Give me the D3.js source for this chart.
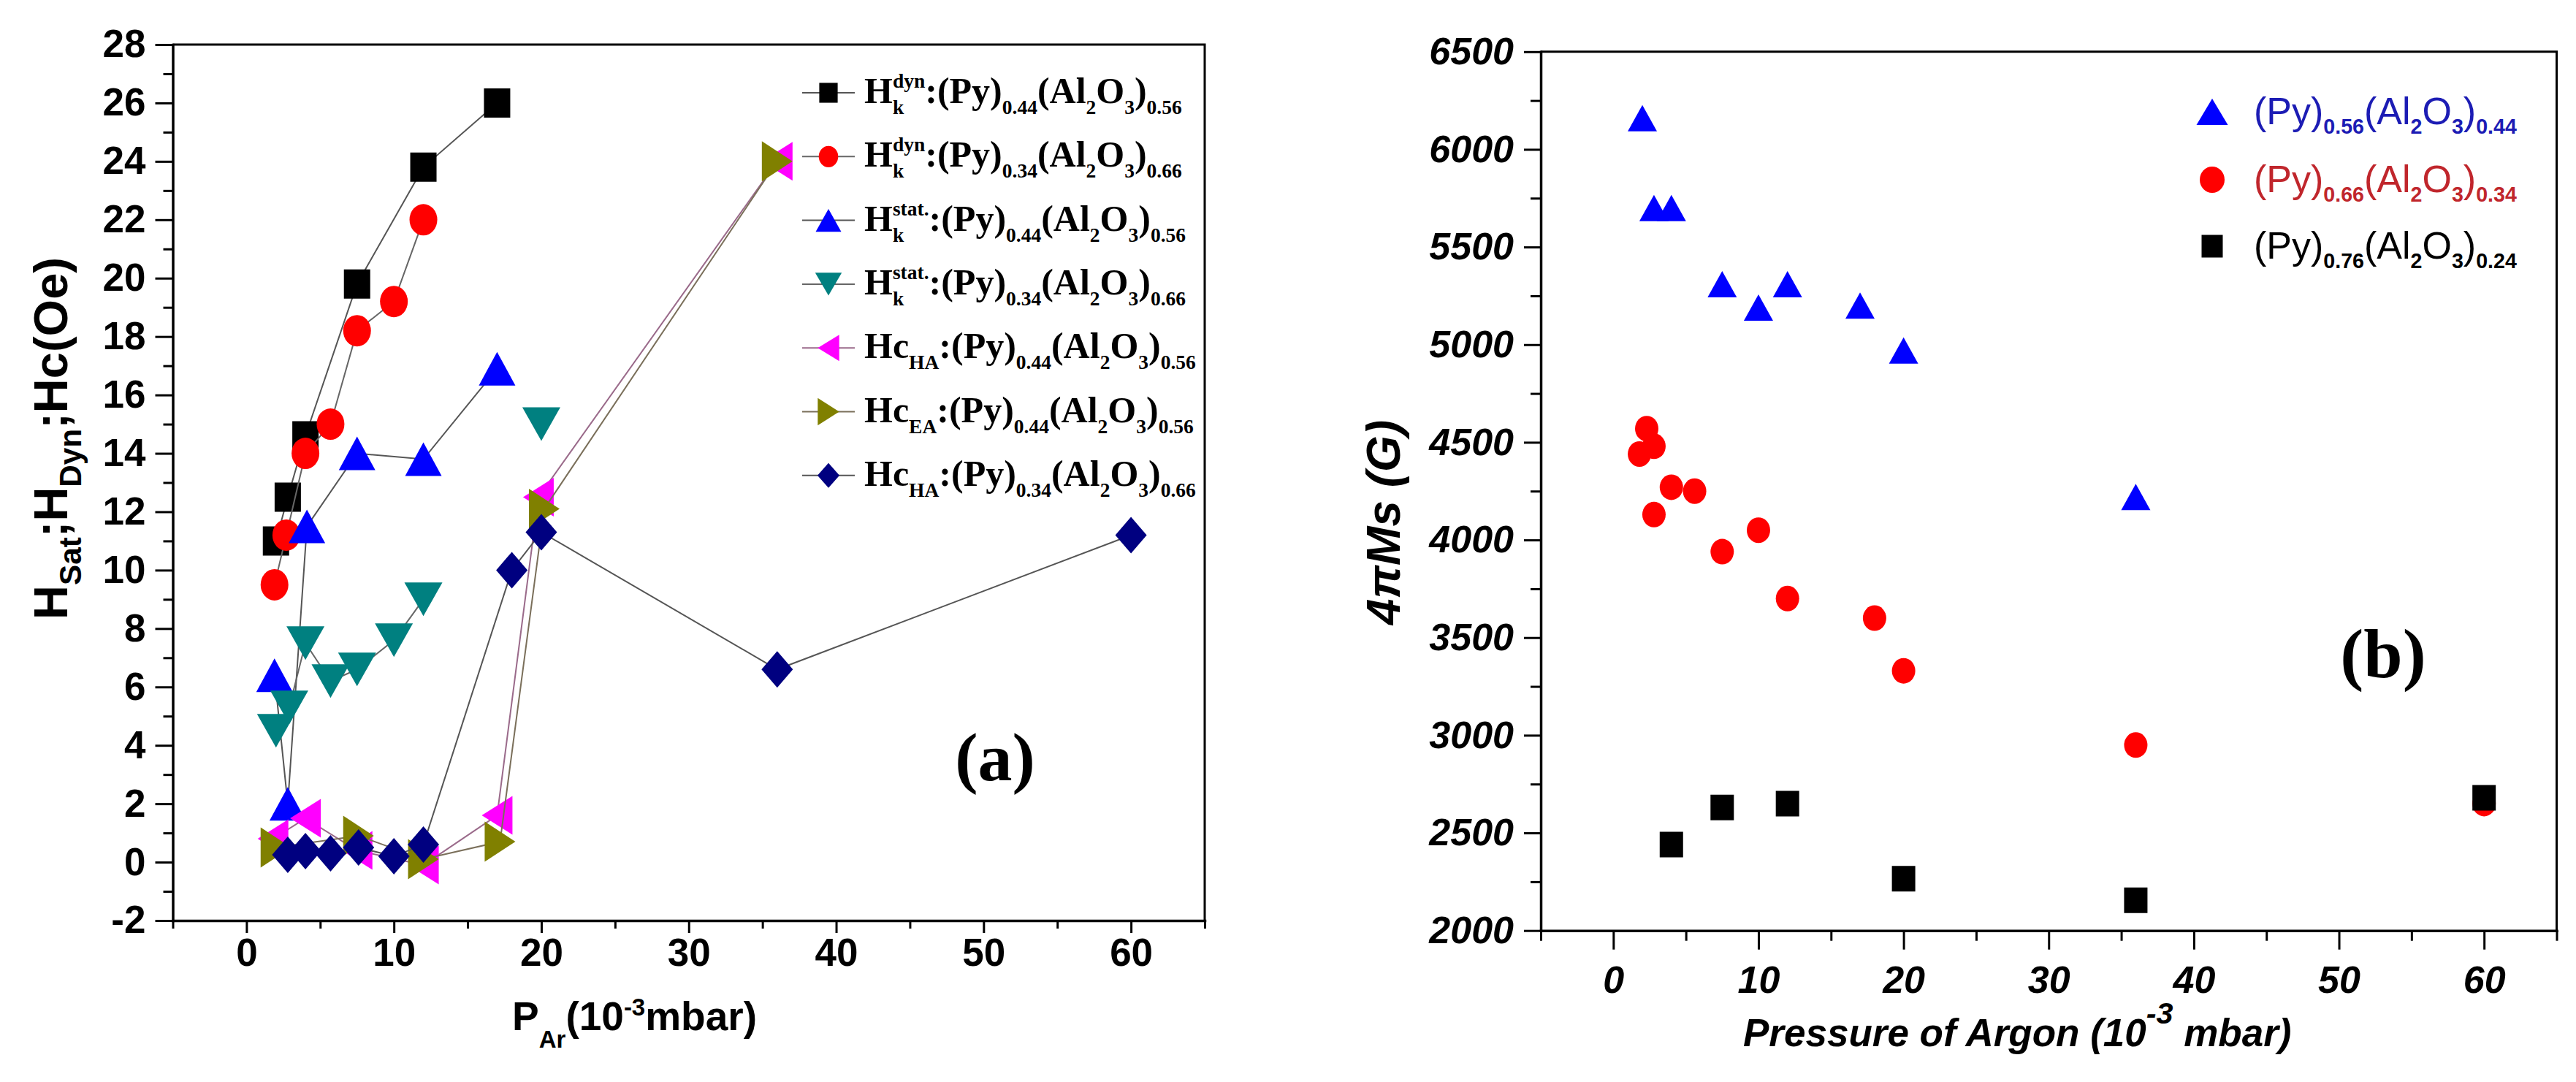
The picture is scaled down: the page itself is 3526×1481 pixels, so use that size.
<!DOCTYPE html>
<html>
<head>
<meta charset="utf-8">
<script src="https://cdn.jsdelivr.net/npm/d3@7.9.0/dist/d3.min.js"></script>
<style>
  html, body { margin: 0; padding: 0; background: #fff; }
  svg { display: block; }
</style>
</head>
<body>
<svg id="chart" width="3526" height="1481"></svg>
<script>
// ---------- panel (a): fields vs argon pressure ----------
const hkDyn044X = [2, 2.8, 4, 7.5, 12, 17];
const hkDyn044Y = [11, 12.5, 14.6, 19.8, 23.8, 26];
const hkDyn034X = [1.9, 2.7, 4, 5.7, 7.5, 10, 12];
const hkDyn034Y = [9.5, 11.2, 14, 15, 18.2, 19.2, 22];
const hkStat044X = [1.9, 2.8, 4.1, 7.5, 12, 17];
const hkStat044Y = [6.4, 2.0, 11.5, 14.0, 13.8, 16.9];
// null = gap in the connecting line
const hkStat034X = [2, 2.9, 4, 5.7, 7.5, 10, 12, null, 20];
const hkStat034Y = [4.5, 5.3, 7.5, 6.2, 6.6, 7.6, 9.0, null, 15.0];
const hcHA044X = [1.8, 4, 7.5, 12, 17, 19.8, 36];
const hcHA044Y = [0.8, 1.5, 0.4, -0.1, 1.6, 12.5, 24];
const hcEA044X = [2, 7.6, 12, 17.2, 20.2, 36];
const hcEA044Y = [0.5, 0.9, 0.1, 0.7, 12.1, 24];
const hcHA034X = [2.8, 4, 5.7, 7.6, 10, 12, 18, 20, 36, 60];
const hcHA034Y = [0.25, 0.38, 0.3, 0.5, 0.2, 0.6, 10, 11.3, 6.6, 11.2];

const legendA = [
  'H^{dyn}_{k}:(Py)_{0.44}(Al_{2}O_{3})_{0.56}',
  'H^{dyn}_{k}:(Py)_{0.34}(Al_{2}O_{3})_{0.66}',
  'H^{stat.}_{k}:(Py)_{0.44}(Al_{2}O_{3})_{0.56}',
  'H^{stat.}_{k}:(Py)_{0.34}(Al_{2}O_{3})_{0.66}',
  'Hc_{HA}:(Py)_{0.44}(Al_{2}O_{3})_{0.56}',
  'Hc_{EA}:(Py)_{0.44}(Al_{2}O_{3})_{0.56}',
  'Hc_{HA}:(Py)_{0.34}(Al_{2}O_{3})_{0.66}'
];
const xTicksA = [0, 10, 20, 30, 40, 50, 60];
const xMinorA = [-5, 5, 15, 25, 35, 45, 55, 65];
const yTicksA = d3.range(-2, 29, 2);
const yMinorA = d3.range(-1, 28, 2);

// ---------- panel (b): 4piMs vs argon pressure ----------
const ms056X = [2, 2.8, 4, 7.5, 10, 12, 17, 20, 36];
const ms056Y = [6160, 5700, 5700, 5310, 5190, 5310, 5200, 4970, 4220];
const ms066X = [1.8, 2.3, 2.8, 2.8, 4, 5.6, 7.5, 10, 12, 18, 20, 36, 60];
const ms066Y = [4440, 4570, 4480, 4130, 4270, 4250, 3940, 4050, 3700, 3600, 3330, 2950, 2650];
const ms076X = [4, 7.5, 12, 20, 36, 60];
const ms076Y = [2440, 2630, 2650, 2265, 2155, 2680];

const legendB = [
  '(Py)_{0.56}(Al_{2}O_{3})_{0.44}',
  '(Py)_{0.66}(Al_{2}O_{3})_{0.34}',
  '(Py)_{0.76}(Al_{2}O_{3})_{0.24}'
];
const xTicksB = [0, 10, 20, 30, 40, 50, 60];
const xMinorB = [-5, 5, 15, 25, 35, 45, 55, 65];
const yTicksB = d3.range(2000, 6501, 500);
const yMinorB = d3.range(2250, 6300, 500);

const SANS = 'Liberation Sans, Arial, sans-serif';
const SERIF = 'Liberation Serif, Times New Roman, serif';

const svg = d3.select('#chart');
svg.append('rect').attr('width', 3526).attr('height', 1481).attr('fill', '#fff');

// marker outline centred on its bounding box
function shape(type, w, h) {
  const a = w / 2, b = h / 2;
  switch (type) {
    case 'square': return `M${-a},${-b}H${a}V${b}H${-a}Z`;
    case 'circle': return `M${-a},0A${a},${b} 0 1,0 ${a},0A${a},${b} 0 1,0 ${-a},0Z`;
    case 'up': return `M0,${-b}L${a},${b}L${-a},${b}Z`;
    case 'down': return `M${-a},${-b}L${a},${-b}L0,${b}Z`;
    case 'left': return `M${-a},0L${a},${-b}L${a},${b}Z`;
    case 'right': return `M${-a},${-b}L${a},0L${-a},${b}Z`;
    case 'diamond': return `M0,${-b}L${a},0L0,${b}L${-a},0Z`;
  }
}

// text with _{sub}, ^{sup} and stacked ^{sup}_{sub}
function rich(parent, x, y, str, o) {
  const text = parent.append('text')
    .attr('x', x).attr('y', y)
    .attr('font-family', o.family).attr('font-size', o.size)
    .attr('font-weight', o.weight || 'bold')
    .attr('font-style', o.style || 'normal')
    .attr('fill', o.fill || '#000')
    .attr('text-anchor', o.anchor || 'start');
  const subS = o.subScale || 0.6, supS = o.supScale || subS;
  const shift = { n: 0, sub: o.subDy, sup: o.supDy };
  let cur = 0, pendingDx = 0;
  const parts = str.match(/\^\{[^}]*\}_\{[^}]*\}|\^\{[^}]*\}|_\{[^}]*\}|[^_^]+/g);
  const add = (t, kind, size) => {
    const ts = text.append('tspan').attr('font-size', size).attr('dy', shift[kind] - cur).text(t);
    if (kind !== 'n' && o.subWeight) ts.attr('font-weight', o.subWeight);
    if (pendingDx) { ts.attr('dx', pendingDx); pendingDx = 0; }
    cur = shift[kind];
    return ts;
  };
  parts.forEach(p => {
    let m;
    if ((m = p.match(/^\^\{([^}]*)\}_\{([^}]*)\}$/))) {
      const a = add(m[1], 'sup', o.size * supS);
      const wa = a.node().getComputedTextLength();
      pendingDx = -wa;
      const b = add(m[2], 'sub', o.size * subS);
      const wb = b.node().getComputedTextLength();
      if (wa > wb) pendingDx = wa - wb;
    } else if ((m = p.match(/^\^\{([^}]*)\}$/))) {
      add(m[1], 'sup', o.size * supS);
    } else if ((m = p.match(/^_\{([^}]*)\}$/))) {
      add(m[1], 'sub', o.size * subS);
    } else {
      add(p, 'n', o.size);
    }
  });
  return text;
}

function drawAxes(g, x, y, c) {
  const [x0, x1] = x.range();
  const [yb, yt] = y.range();
  g.append('path').attr('d', `M${x0},${yt}H${x1}V${yb}`)
    .attr('fill', 'none').attr('stroke', '#000').attr('stroke-width', 3);

  const styleText = sel => sel.selectAll('text')
    .attr('font-family', SANS).attr('font-size', c.fontSize)
    .attr('font-weight', 'bold').attr('font-style', c.fontStyle).attr('fill', '#000');
  const styleLines = sel => {
    sel.attr('font-size', null).attr('font-family', null);
    sel.selectAll('line').attr('stroke', '#000').attr('stroke-width', 3);
    sel.select('.domain').attr('stroke', '#000').attr('stroke-width', 3.5).attr('stroke-linecap', 'square');
  };
  const plain = d => String(d);

  g.append('g').attr('transform', `translate(0,${yb})`)
    .call(d3.axisBottom(x).tickValues(c.xMinor).tickSize(c.xMinorLen).tickSizeOuter(0).tickFormat(''))
    .call(styleLines).call(s => s.select('.domain').remove());
  g.append('g').attr('transform', `translate(0,${yb})`)
    .call(d3.axisBottom(x).tickValues(c.xMajor).tickSize(c.xMajorLen).tickSizeOuter(0)
      .tickPadding(c.xPad).tickFormat(plain))
    .call(styleLines).call(styleText);

  g.append('g').attr('transform', `translate(${x0},0)`)
    .call(d3.axisLeft(y).tickValues(c.yMinor).tickSize(c.yMinorLen).tickSizeOuter(0).tickFormat(''))
    .call(styleLines).call(s => s.select('.domain').remove());
  g.append('g').attr('transform', `translate(${x0},0)`)
    .call(d3.axisLeft(y).tickValues(c.yMajor).tickSize(c.yMajorLen).tickSizeOuter(0)
      .tickPadding(c.yPad).tickFormat(plain))
    .call(styleLines).call(styleText);
}

// ===================== panel (a) =====================
const xA = d3.scaleLinear().domain([-5, 65]).range([236.5, 1649]);
const yA = d3.scaleLinear().domain([-2, 28]).range([1260, 61]);
const gA = svg.append('g');

drawAxes(gA, xA, yA, {
  xMajor: xTicksA, xMinor: xMinorA, yMajor: yTicksA, yMinor: yMinorA,
  xMajorLen: 17, xMinorLen: 11, yMajorLen: 24, yMinorLen: 13,
  xPad: 7, yPad: 13, fontSize: 53, fontStyle: 'normal'
});

const seriesA = [
  { x: hkDyn044X, y: hkDyn044Y, shape: 'square', w: 36, h: 40, fill: '#000000', line: '#555' },
  { x: hkDyn034X, y: hkDyn034Y, shape: 'circle', w: 38, h: 43, fill: '#ff0000', line: '#666' },
  { x: hkStat044X, y: hkStat044Y, shape: 'up', w: 50, h: 46, fill: '#0000ff', line: '#555' },
  { x: hkStat034X, y: hkStat034Y, shape: 'down', w: 52, h: 46, fill: '#008080', line: '#666' },
  { x: hcHA044X, y: hcHA044Y, shape: 'left', w: 42, h: 53, fill: '#ff00ff', line: '#9a6a8a' },
  { x: hcEA044X, y: hcEA044Y, shape: 'right', w: 42, h: 55, fill: '#808000', line: '#7a6f5a' },
  { x: hcHA034X, y: hcHA034Y, shape: 'diamond', w: 43, h: 50, fill: '#000080', line: '#555' }
];

const lineA = d3.line()
  .defined(d => d[0] !== null && d[1] !== null)
  .x(d => xA(d[0])).y(d => yA(d[1]));

seriesA.forEach(s => {
  const pts = s.x.map((v, i) => [v, s.y[i]]);
  gA.append('path').attr('d', lineA(pts))
    .attr('fill', 'none').attr('stroke', s.line).attr('stroke-width', 2);
  gA.append('g').selectAll('path')
    .data(pts.filter(d => d[0] !== null))
    .join('path')
    .attr('transform', d => `translate(${xA(d[0])},${yA(d[1])})`)
    .attr('d', shape(s.shape, s.w, s.h))
    .attr('fill', s.fill);
});

// legend (a)
const legA = gA.append('g');
legendA.forEach((label, i) => {
  const s = seriesA[i];
  const cy = 127 + i * 87.3;
  legA.append('line').attr('x1', 1098).attr('x2', 1170).attr('y1', cy).attr('y2', cy)
    .attr('stroke', s.line).attr('stroke-width', 2);
  legA.append('path').attr('transform', `translate(1134,${cy})`)
    .attr('d', shape(s.shape, s.w * 0.7, s.h * 0.68)).attr('fill', s.fill);
  rich(legA, 1183, cy + 14, label, {
    family: SERIF, size: 50, weight: 'bold', subScale: 0.55,
    subDy: 15, supDy: -21
  });
});

// axis titles (a)
rich(gA, 701, 1410, 'P_{Ar}(10^{-3}mbar)', {
  family: SANS, size: 55, weight: 'bold', subScale: 0.6, subDy: 24, supDy: -20
});
const tA = gA.append('g').attr('transform', 'translate(92,600) rotate(-90)');
rich(tA, 0, 0, 'H_{Sat};H_{Dyn};Hc(Oe)', {
  family: SANS, size: 65, weight: 'bold', anchor: 'middle', subScale: 0.65, subDy: 19, supDy: -20
});
gA.append('text').attr('x', 1362).attr('y', 1068).attr('text-anchor', 'middle')
  .attr('font-family', SERIF).attr('font-weight', 'bold').attr('font-size', 94).text('(a)');

// ===================== panel (b) =====================
const xB = d3.scaleLinear().domain([-5, 65]).range([2109, 3499.5]);
const yB = d3.scaleLinear().domain([2000, 6500]).range([1273.7, 70.8]);
const gB = svg.append('g');

drawAxes(gB, xB, yB, {
  xMajor: xTicksB, xMinor: xMinorB, yMajor: yTicksB, yMinor: yMinorB,
  xMajorLen: 26, xMinorLen: 14, yMajorLen: 23, yMinorLen: 14,
  xPad: 22, yPad: 14, fontSize: 52, fontStyle: 'italic'
});

const seriesB = [
  { x: ms056X, y: ms056Y, shape: 'up', w: 40, h: 36, lw: 43, lh: 36, fill: '#0000ff', text: '#1c1cb4' },
  { x: ms066X, y: ms066Y, shape: 'circle', w: 32, h: 35, lw: 34, lh: 36, fill: '#ff0000', text: '#c0262c' },
  { x: ms076X, y: ms076Y, shape: 'square', w: 32, h: 35, lw: 29, lh: 31, fill: '#000000', text: '#000000' }
];

seriesB.forEach(s => {
  gB.append('g').selectAll('path')
    .data(s.x.map((v, i) => [v, s.y[i]]))
    .join('path')
    .attr('transform', d => `translate(${xB(d[0])},${yB(d[1])})`)
    .attr('d', shape(s.shape, s.w, s.h))
    .attr('fill', s.fill);
});

// legend (b)
const legYB = [153, 246, 337];
legendB.forEach((label, i) => {
  const s = seriesB[i];
  gB.append('path').attr('transform', `translate(3028,${legYB[i]})`)
    .attr('d', shape(s.shape, s.lw, s.lh)).attr('fill', s.fill);
  rich(gB, 3085, legYB[i] + 17, label, {
    family: SANS, size: 52, weight: 'normal', subWeight: 'bold', fill: s.text,
    subScale: 0.55, subDy: 13, supDy: -20
  });
});

// axis titles (b)
rich(gB, 2386, 1432, 'Pressure of Argon (10^{-3} mbar)', {
  family: SANS, size: 53, weight: 'bold', style: 'italic', supScale: 0.78, subScale: 0.6,
  subDy: 15, supDy: -31
});
gB.append('g').attr('transform', 'translate(1916,715) rotate(-90)')
  .append('text').attr('text-anchor', 'middle')
  .attr('font-family', SANS).attr('font-weight', 'bold').attr('font-style', 'italic')
  .attr('font-size', 64).text('4πMs (G)');
gB.append('text').attr('x', 3262).attr('y', 927).attr('text-anchor', 'middle')
  .attr('font-family', SERIF).attr('font-weight', 'bold').attr('font-size', 96).text('(b)');
</script>
</body>
</html>
